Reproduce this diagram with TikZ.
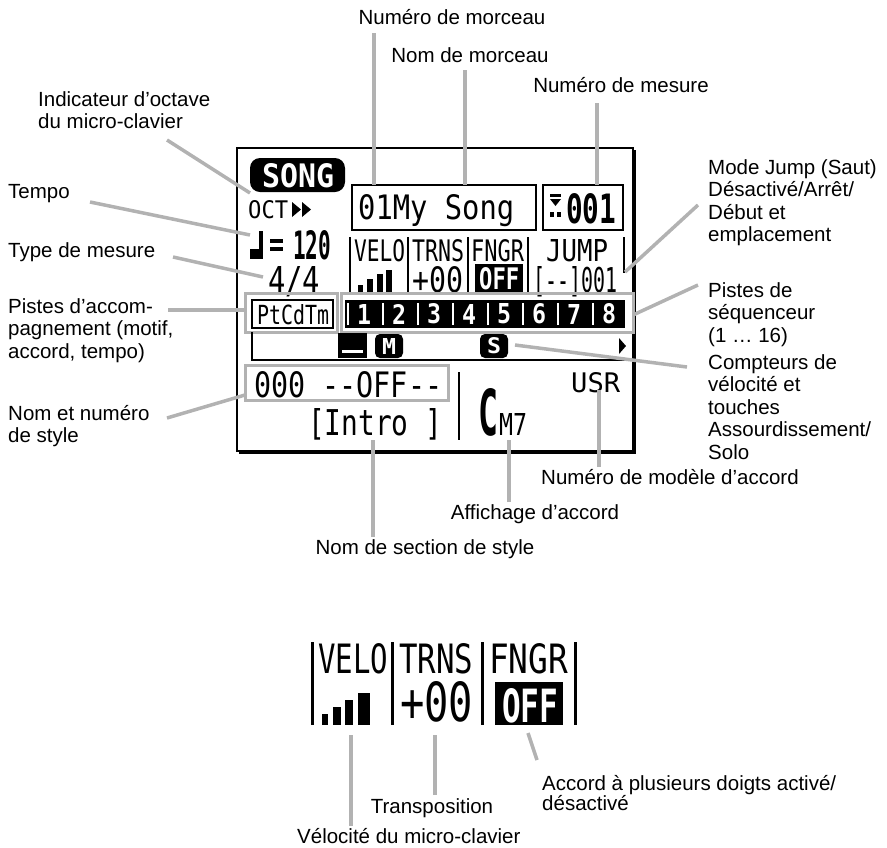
\documentclass[tikz,border=0pt]{standalone}
\usepackage{fontspec}
\usepackage{graphicx}
\setmainfont{Liberation Sans}
\newfontfamily\lcdfont{DejaVu Sans Mono}
\definecolor{leadgray}{RGB}{178,178,178}
% LCD characters squeezed into a given width x height (pt)
\newcommand\lcdfit[3]{\resizebox{#1pt}{#2pt}{\lcdfont #3}}
\newcommand\lcdfitb[3]{\resizebox{#1pt}{#2pt}{\lcdfont\bfseries #3}}

\tikzset{
  lbl/.style={font=\fontsize{20.5}{22.5}\selectfont, inner sep=0pt},
  lblleft/.style={lbl, align=left, anchor=north west},
  lblbase/.style={lbl, anchor=base},
  lblbasew/.style={lbl, anchor=base west},
  leader/.style={draw=leadgray, line width=3.5pt},
  hilite/.style={draw=leadgray, line width=3pt},
  lcdrule/.style={line width=2.5pt},
  lcdframe/.style={line width=2.5pt},
  lcdtxt/.style={inner sep=0pt, anchor=north west},
  lcdinv/.style={lcdtxt, text=white},
}

\begin{document}
\begin{tikzpicture}[x=1pt,y=-1pt]
\useasboundingbox (0,0) rectangle (887,847);

% ---------- main LCD ----------
\draw[lcdframe] (237,148) rectangle (633,451);
\draw[line width=2pt] (635,150) -- (635,453) -- (239,453);

% SONG badge
\fill[rounded corners=10pt] (250,158) rectangle (345,192);
\node[lcdinv] (songmode) at (262,163) {\lcdfitb{72}{24}{SONG}};

% keyboard octave
\node[lcdtxt] (oct) at (248,200) {\lcdfit{40}{18}{OCT}};
\fill (292,202) -- (301,209.5) -- (292,217) -- cycle;
\fill (302,202) -- (311,209.5) -- (302,217) -- cycle;

% tempo: note symbol, equals sign, value
\fill (259,231) rectangle (263,259);
\fill (250,249) rectangle (263,259);
\fill (270,239) rectangle (283,243);
\fill (270,247) rectangle (283,251);
\node[lcdtxt] (bpm) at (293,230) {\lcdfitb{38}{29}{120}};

% time signature
\node[lcdtxt] (timesig) at (268,266) {\lcdfit{52}{27}{4/4}};

% song number and name
\draw[lcdframe] (352,185) rectangle (536,230);
\node[lcdtxt] (songname) at (358,194) {\lcdfit{156}{25}{01My Song}};

% measure number
\draw[lcdframe] (543,185) rectangle (623,230);
\fill (550,194) rectangle (561,197);
\fill (550,199) -- (561,199) -- (555.5,206) -- cycle;
\fill (550,212) rectangle (554,217);
\fill (557,212) rectangle (561,217);
\node[lcdtxt] (measure) at (566,193) {\lcdfitb{50}{30}{001}};

% parameter headers
\foreach \x in {350,408,468,528} \draw[lcdrule] (\x,237) -- (\x,294);
\draw[lcdrule] (624,237) -- (624,273);
\node[lcdtxt] (hvelo) at (354,239) {\lcdfit{51}{22}{VELO}};
\node[lcdtxt] (htrns) at (412,239) {\lcdfit{52}{22}{TRNS}};
\node[lcdtxt] (hfngr) at (471,239) {\lcdfit{53}{22}{FNGR}};
\node[lcdtxt] (hjump) at (546,239) {\lcdfit{62}{22}{JUMP}};

% parameter values
\fill (358,285) rectangle (363,292);
\fill (367,279) rectangle (373,292);
\fill (377,274) rectangle (383,292);
\fill (386,270) rectangle (392,292);
\node[lcdtxt] (trns) at (412,266) {\lcdfit{51}{26}{+00}};
\fill (475,264) rectangle (523,292);
\node[lcdinv] (fngr) at (479,267) {\lcdfitb{40}{22}{OFF}};
\node[lcdtxt] (jump) at (533,266) {\lcdfit{84}{26}{[--]001}};

% accompaniment tracks
\draw[hilite] (245,293) rectangle (337,332);
\draw[lcdrule] (252,300) rectangle (333,328);
\node[lcdtxt] (accomp) at (257,304) {\lcdfit{72}{20}{PtCdTm}};

% sequencer tracks
\draw[hilite] (341,293) rectangle (633,332);
\fill (345,300) rectangle (625,328);
\foreach \i in {1,...,8} {
  \pgfmathsetmacro\xa{345+35*(\i-1)}
  \draw[white, line width=1.5pt] (\xa+3,303) -- (\xa+3,325);
  \node[lcdinv, anchor=center] (trk\i) at (\xa+19,314) {\lcdfitb{14}{20}{\i}};
}

% mute / solo row
\draw[lcdrule] (252,332) -- (252,360) -- (626,360);
\fill (338,333) rectangle (367,358);
\fill[white] (342,350) rectangle (363,353);
\fill[rounded corners=5pt] (375,334) rectangle (403,358);
\node[lcdinv, anchor=center] (mute) at (389,346) {\lcdfitb{14}{16}{M}};
\fill[rounded corners=5pt] (480,334) rectangle (508,358);
\node[lcdinv, anchor=center] (solo) at (494,346) {\lcdfitb{14}{16}{S}};
\fill (619,338) -- (626,346) -- (619,354) -- cycle;

% style, section and chord
\draw[hilite] (245,365) rectangle (448,400);
\node[lcdtxt] (style) at (254,371) {\lcdfit{188}{26}{000 --OFF--}};
\node[lcdtxt] (usr) at (571,372) {\lcdfit{49}{20}{USR}};
\draw[lcdrule] (459,372) -- (459,440);
\node[lcdtxt] (section) at (308,408) {\lcdfit{134}{27}{[Intro ]}};
\node[lcdtxt] (chordroot) at (478,388) {\lcdfitb{20}{47}{C}};
\node[lcdtxt] (chordtype) at (499,413) {\lcdfit{28}{22}{M7}};

% ---------- enlarged parameter area ----------
\foreach \x in {312,392,482,575} \draw[line width=3pt] (\x,642) -- (\x,725);
\node[lcdtxt] (dvelo) at (318,643) {\lcdfit{70}{30}{VELO}};
\node[lcdtxt] (dtrns) at (399,643) {\lcdfit{74}{30}{TRNS}};
\node[lcdtxt] (dfngr) at (489,643) {\lcdfit{79}{30}{FNGR}};
\fill (322,714) rectangle (328,725);
\fill (333,707) rectangle (341,725);
\fill (345,700) rectangle (353,725);
\fill (358,693) rectangle (370,725);
\node[lcdtxt] (dtrnsval) at (400,681) {\lcdfit{73}{40}{+00}};
\fill (495,682) rectangle (563,725);
\node[lcdinv] (dfngrval) at (502,688) {\lcdfitb{56}{34}{OFF}};

% ---------- labels ----------
\node[lblbase] (lNumMorceau) at (452,24) {Numéro de morceau};
\node[lblbase] (lNomMorceau) at (470,62) {Nom de morceau};
\node[lblbase] (lNumMesure) at (621,92) {Numéro de mesure};
\node[lblleft] (lOctave) at (38,91) {Indicateur d'octave\\du micro-clavier};
\node[lblbasew] (lTempo) at (8,198) {Tempo};
\node[lblbasew] (lMesure) at (8,257) {Type de mesure};
\node[lblleft] (lAccomp) at (8,298) {Pistes d'accom-\\pagnement (motif,\\accord, tempo)};
\node[lblleft] (lStyle) at (8,405) {Nom et numéro\\de style};
\node[lblleft] (lJump) at (708,159) {Mode Jump (Saut)\\Désactivé/Arrêt/\\Début et\\emplacement};
\node[lblleft] (lSeq) at (708,282) {Pistes de\\séquenceur\\(1 … 16)};
\node[lblleft] (lCompteurs) at (708,354) {Compteurs de\\vélocité et\\touches\\Assourdissement/\\Solo};
\node[lblbase] (lModele) at (670,484) {Numéro de modèle d'accord};
\node[lblbase] (lAccord) at (535,519) {Affichage d'accord};
\node[lblbase] (lSection) at (425,554) {Nom de section de style};
\node[lblleft, font=\fontsize{20.5}{20.5}\selectfont] (lFingered) at (542,775) {Accord à plusieurs doigts activé/\\désactivé};
\node[lblbase] (lTrans) at (432,813) {Transposition};
\node[lblbasew] (lVelo) at (297,843) {Vélocité du micro-clavier};

% ---------- leader lines ----------
\coordinate (a1) at (374,33);  \coordinate (b1) at (374,185);
\coordinate (a2) at (465,70);  \coordinate (b2) at (465,185);
\coordinate (a3) at (597,103); \coordinate (b3) at (597,185);
\coordinate (a4) at (167,140); \coordinate (b4) at (250,193);
\coordinate (a5) at (90,202);  \coordinate (b5) at (250,235);
\coordinate (a6) at (173,257); \coordinate (b6) at (263,277);
\coordinate (a7) at (168,310); \coordinate (b7) at (245,310);
\coordinate (a8) at (167,418); \coordinate (b8) at (245,395);
\coordinate (a9) at (698,205); \coordinate (b9) at (625,272);
\coordinate (a10) at (698,285); \coordinate (b10) at (633,315);
\coordinate (a11) at (687,367); \coordinate (b11) at (515,345);
\coordinate (a12) at (599,467); \coordinate (b12) at (599,390);
\coordinate (a13) at (509,502); \coordinate (b13) at (509,440);
\coordinate (a14) at (373,537); \coordinate (b14) at (373,440);
\coordinate (a15) at (351,826); \coordinate (b15) at (351,735);
\coordinate (a16) at (435,795); \coordinate (b16) at (435,735);
\coordinate (a17) at (537,760); \coordinate (b17) at (528,733);
\foreach \k in {1,...,17} \draw[leader] (a\k) -- (b\k);
\end{tikzpicture}
\end{document}
